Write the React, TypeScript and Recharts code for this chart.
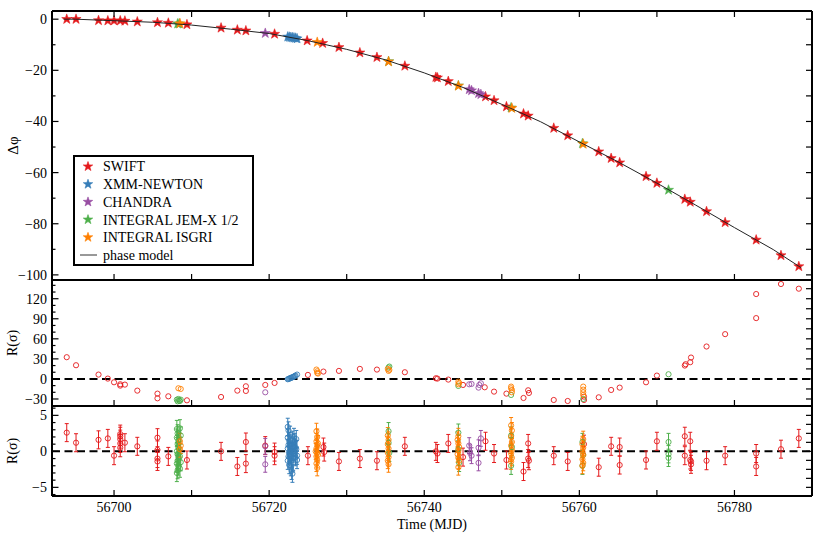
import React from 'react';
import { ScatterChart, Scatter, XAxis, YAxis, ReferenceLine, ErrorBar, Legend } from 'recharts';

// ─── Palette / fonts ──────────────────────────────────────────────────────────
const RED = '#e41a1c';
const BLUE = '#377eb8';
const PURPLE = '#984ea3';
const GREEN = '#4daf4a';
const ORANGE = '#ff7f00';
const FONT = '"Liberation Serif", "DejaVu Serif", serif';

// ─── Shared time axis ─────────────────────────────────────────────────────────
const mjdDomain: [number, number] = [56692, 56790];
const mjdTicks = [56700, 56710, 56720, 56730, 56740, 56750, 56760, 56770, 56780];

// ─── Top panel: phase offsets [MJD, Δφ] ───────────────────────────────────────
const swiftPhase: [number, number][] = [
  [56693.9, 0], [56695.1, 0], [56698.0, -0.5], [56699.2, -0.6], [56700.0, -0.6], [56700.8, -0.6],
  [56701.4, -0.7], [56703.0, -1.0], [56705.6, -1.3], [56707.0, -1.5], [56709.4, -2.1], [56713.8, -3.4],
  [56715.9, -4.2], [56717.0, -4.5], [56720.7, -5.8], [56724.9, -8.4], [56726.9, -9.4], [56729.0, -11.0],
  [56731.7, -13.1], [56733.9, -14.9], [56737.5, -18.3], [56741.5, -22.7], [56741.7, -22.9], [56743.1, -24.3],
  [56747.9, -30.3], [56749.0, -31.8], [56750.6, -34.2], [56752.8, -37.0], [56753.4, -37.8], [56756.7, -42.6],
  [56758.5, -45.5], [56762.5, -51.8], [56764.1, -54.4], [56765.2, -56.1], [56768.6, -61.5], [56770.0, -64.1],
  [56773.6, -70.4], [56774.3, -71.5], [56776.4, -75.2], [56778.8, -79.5], [56782.8, -86.3], [56786.0, -92.4],
  [56788.3, -96.7],
];
const xmmPhase: [number, number][] = [
  [56722.4, -6.9], [56722.6, -7.0], [56722.8, -7.1], [56723.0, -7.2], [56723.2, -7.3], [56723.4, -7.4], [56723.6, -7.6],
];
const chandraPhase: [number, number][] = [
  [56719.5, -5.5], [56745.8, -27.5], [56746.1, -27.9], [56747.0, -29.0], [56747.3, -29.4],
];
const jemxPhase: [number, number][] = [
  [56708.2, -1.8], [56708.4, -1.8], [56735.4, -16.5], [56744.4, -26.0], [56751.2, -34.6], [56760.4, -48.6], [56771.5, -66.8],
];
const isgriPhase: [number, number][] = [
  [56708.5, -1.7], [56726.2, -9.0], [56735.4, -16.6], [56744.4, -26.1], [56751.3, -34.8], [56760.5, -48.8],
];
const phaseModel: [number, number][] = [
  [56693.5, 0], [56695, 0], [56700, -0.6], [56705, -1.2], [56710, -2.3], [56715, -3.9], [56720, -5.6],
  [56725, -8.4], [56730, -11.8], [56735, -15.9], [56740, -21.0], [56745, -26.7], [56750, -33.3],
  [56755, -40.1], [56760, -48.0], [56765, -55.8], [56770, -64.1], [56775, -72.7], [56780, -81.5],
  [56785, -90.1], [56788.6, -97.2],
];

// ─── Middle panel: residuals against the constant-frequency model [MJD, R] ─────
const swiftResidLin: [number, number][] = [
  [56693.9, 32.5], [56695.1, 20.5], [56698.0, 6.5], [56699.2, 0.5], [56700.0, -5], [56700.8, -8], [56700.8, -10],
  [56701.4, -8.5], [56703.0, -17.5], [56705.6, -22], [56705.6, -29], [56707.0, -26], [56709.4, -32], [56713.8, -27],
  [56715.9, -17.5], [56717.0, -11], [56717.0, -18], [56719.5, -9], [56720.7, -6], [56725.0, 6], [56727.0, 11],
  [56729.0, 12], [56731.7, 15], [56733.9, 14], [56737.5, 10], [56741.5, 1], [56741.7, 0.5], [56743.1, -1],
  [56745.0, -9], [56747.8, -12.5], [56749.0, -19], [56750.6, -22], [56752.8, -28.5], [56753.4, -17], [56753.5, -21],
  [56756.7, -31.5], [56758.5, -33], [56760.6, -26.5], [56760.6, -31.5], [56762.5, -27.5], [56764.1, -16.5],
  [56765.2, -13], [56768.6, -5], [56770.0, 5], [56773.6, 20], [56773.7, 22], [56774.3, 25], [56774.4, 32],
  [56776.4, 48.5], [56778.8, 67], [56782.8, 91], [56782.8, 127], [56786.0, 142], [56788.3, 135],
];
const xmmResidLin: [number, number][] = [
  [56722.4, -0.5], [56722.5, 0], [56722.6, 0.5], [56722.7, 1], [56722.8, 1.5], [56722.9, 2], [56723.0, 2.5],
  [56723.1, 3], [56723.2, 3.5], [56723.3, 4.5], [56723.4, 5], [56723.6, 6.5],
];
const chandraResidLin: [number, number][] = [
  [56719.5, -20], [56745.8, -8], [56746.1, -7.5], [56747.0, -13], [56747.1, -9], [56747.3, -6.5],
];
const jemxResidLin: [number, number][] = [
  [56708.1, -31], [56708.2, -33.5], [56708.3, -30], [56708.4, -32.5], [56708.5, -33], [56708.6, -31],
  [56735.4, 17], [56735.5, 18.5], [56744.4, -10.5], [56751.2, -24], [56760.5, -30], [56771.5, 7],
];
const isgriResidLin: [number, number][] = [
  [56708.3, -14], [56708.6, -15], [56726.1, 14], [56726.2, 11.5], [56726.2, 9], [56726.3, 8], [56735.3, 15],
  [56735.4, 12], [56735.5, 13.5], [56744.4, -4], [56744.5, -6], [56744.4, -8], [56751.2, -11.5], [56751.2, -14],
  [56751.3, -16.5], [56751.3, -20], [56760.5, -11.5], [56760.5, -16], [56760.5, -20], [56760.5, -24],
];

// ─── Bottom panel: residuals against the phase model [MJD, R] ±err ─────────────
const swiftResidFit: [number, number][] = [
  [56693.9, 2.6], [56695.1, 1.2], [56698.0, 1.6], [56699.2, 1.8], [56700.0, -0.6], [56700.8, 2.4], [56700.8, 2.1],
  [56700.8, 1.7], [56700.8, 1.1], [56700.8, 0.5], [56701.4, 1.2], [56703.0, 0.7], [56705.6, 1.9], [56705.6, 0.2],
  [56705.6, -1.0], [56705.6, -1.4], [56707.0, -0.7], [56709.4, -1.2], [56713.8, 0], [56715.9, -2.1], [56717.0, 1.3],
  [56717.0, -1.7], [56719.5, 0.8], [56720.7, -0.1], [56720.7, -0.6], [56725.0, -0.6], [56727.0, 0.6], [56727.1, -0.1],
  [56729.0, -1.4], [56731.7, -1.0], [56733.9, -1.3], [56737.5, 0.7], [56741.5, 0], [56741.7, -0.3], [56743.1, 1.1],
  [56745.0, -0.8], [56747.9, 1.4], [56749.0, -0.3], [56750.6, -1.2], [56752.8, -2.8], [56753.4, 1.1], [56753.4, -1.0],
  [56753.5, -1.3], [56756.7, -0.6], [56758.5, -1.4], [56760.6, 1.0], [56762.5, -2.2], [56764.1, 0.7], [56765.2, 0.6],
  [56765.2, -1.9], [56768.6, -1.2], [56770.0, 1.4], [56773.6, 2.1], [56773.6, -0.6], [56774.3, 1.4], [56774.3, -1.2],
  [56774.4, -1.4], [56774.4, -1.8], [56776.4, -1.3], [56778.8, -0.6], [56782.8, -0.3], [56782.8, -2.1],
  [56786.0, 0.3], [56788.3, 1.8],
];
const xmmResidFit: [number, number][] = [
  [56722.4, 3.4], [56722.5, 2.9], [56722.4, 1.9], [56722.6, 1.4], [56722.5, 0.9], [56722.4, 0.4], [56722.6, -0.2],
  [56722.5, -0.7], [56722.4, -1.3], [56722.6, -1.9], [56722.7, 2.3], [56722.8, 1.1], [56722.9, 0.1], [56722.8, -0.5],
  [56722.9, -1.0], [56722.8, -2.2], [56722.9, -2.7], [56723.0, -3.1], [56723.0, 1.6], [56723.1, 0.6], [56723.2, -0.3],
  [56723.1, -1.5], [56723.2, 2.0], [56723.3, 0.9], [56723.4, -0.8], [56723.3, 1.3], [56723.5, 0.3], [56723.6, -0.6],
  [56723.5, 1.7], [56723.6, -1.2], [56722.7, 0.0], [56723.0, -0.1], [56723.4, 0.5],
];
const chandraResidFit: [number, number][] = [
  [56719.5, 0.7], [56719.5, -1.8], [56745.8, 0.8], [56745.9, -0.2], [56746.1, -0.6], [56747.0, 0.5], [56747.0, -1.6],
  [56747.3, 1.8],
];
const jemxResidFit: [number, number][] = [
  [56708.1, 3.1], [56708.2, 2.5], [56708.1, 1.9], [56708.3, 1.5], [56708.2, 1.0], [56708.3, 0.5], [56708.1, 0.0],
  [56708.2, -0.4], [56708.3, -0.8], [56708.2, -1.3], [56708.1, -1.7], [56708.3, -2.1], [56708.2, -2.6], [56708.1, -3.0],
  [56708.5, 3.2], [56708.6, 2.2], [56708.5, -0.7], [56708.6, -1.5], [56708.5, -2.4],
  [56735.4, 2.8], [56735.4, 1.2], [56735.5, -0.2], [56744.4, 2.6], [56744.4, 0.3], [56744.5, -1.6],
  [56751.2, 2.2], [56751.3, 0.6], [56751.2, -2.0], [56760.4, 1.3], [56760.5, -0.5], [56760.4, -2.0],
  [56771.5, 1.3], [56771.5, -0.4], [56771.5, -0.9],
];
const isgriResidFit: [number, number][] = [
  [56708.5, 1.4], [56708.6, 0.8], [56708.5, 0.3],
  [56726.1, 2.8], [56726.2, 2.0], [56726.1, 1.4], [56726.2, 0.9], [56726.1, 0.4], [56726.2, -0.2], [56726.1, -0.7],
  [56726.2, -1.2], [56726.1, -1.7], [56726.2, -2.3], [56726.3, 1.1], [56726.3, -0.5], [56726.0, 0.0],
  [56735.3, 2.2], [56735.4, 1.6], [56735.3, 1.0], [56735.4, 0.4], [56735.3, -0.2], [56735.4, -0.8], [56735.3, -1.3],
  [56735.4, -1.8],
  [56744.4, 2.1], [56744.3, 1.6], [56744.4, 1.1], [56744.5, 0.6], [56744.4, 0.1], [56744.3, -0.4], [56744.4, -0.9],
  [56744.5, -1.3], [56744.4, -2.2],
  [56751.2, 3.6], [56751.3, 2.9], [56751.2, 2.0], [56751.3, 1.3], [56751.2, 0.8], [56751.3, 0.2], [56751.2, -0.3],
  [56751.3, -0.9], [56751.2, -1.4],
  [56760.5, 1.7], [56760.4, 1.0], [56760.5, 0.5], [56760.4, 0.0], [56760.5, -0.5], [56760.4, -1.1], [56760.5, -1.6],
  [56760.4, -2.0],
];
const swiftErr = 1.25;
const xmmErr = 1.2;
const chandraErr = 1.1;
const jemxErr = 1.2;
const isgriErr = 1.1;

// ─── Series meta (legend order = draw order) ─────────────────────────────────
const instruments = [
  { name: 'SWIFT', color: RED, phase: swiftPhase, lin: swiftResidLin, fit: swiftResidFit, err: swiftErr },
  { name: 'XMM-NEWTON', color: BLUE, phase: xmmPhase, lin: xmmResidLin, fit: xmmResidFit, err: xmmErr },
  { name: 'CHANDRA', color: PURPLE, phase: chandraPhase, lin: chandraResidLin, fit: chandraResidFit, err: chandraErr },
  { name: 'INTEGRAL JEM-X 1/2', color: GREEN, phase: jemxPhase, lin: jemxResidLin, fit: jemxResidFit, err: jemxErr },
  { name: 'INTEGRAL ISGRI', color: ORANGE, phase: isgriPhase, lin: isgriResidLin, fit: isgriResidFit, err: isgriErr },
];

const toPoints = (rows: [number, number][], err = 0) => rows.map(([x, y]) => ({ x, y, e: err }));

// ─── Marker shapes ────────────────────────────────────────────────────────────
function starPath(cx: number, cy: number, r: number) {
  const pts: string[] = [];
  for (let i = 0; i < 10; i++) {
    const rad = i % 2 === 0 ? r : r * 0.4;
    const a = -Math.PI / 2 + (i * Math.PI) / 5;
    pts.push(`${(cx + rad * Math.cos(a)).toFixed(2)},${(cy + rad * Math.sin(a)).toFixed(2)}`);
  }
  return 'M' + pts.join('L') + 'Z';
}
const star = (color: string) => (p: any) => (
  <path d={starPath(p.cx, p.cy, 5.3)} fill={color} stroke={color} strokeWidth={0.6} strokeOpacity={0.9} />
);
const ring = (color: string) => (p: any) => (
  <circle cx={p.cx} cy={p.cy} r={2.6} fill="none" stroke={color} strokeWidth={0.9} />
);
const nothing = () => <g />;

// ─── Axis ticks (inward, drawn by hand) ───────────────────────────────────────
const fmt = (v: number) => String(v).replace('-', '\u2212');
const near = (v: number, step: number) => Math.abs(v / step - Math.round(v / step)) < 1e-6;
const textStyle = { fontFamily: FONT, fontSize: 14, fill: '#000' };

const bottomTick = (labels: boolean) => (p: any) => (
  <g>
    <line x1={p.x} x2={p.x} y1={p.y} y2={p.y - 6} stroke="#000" strokeWidth={1.2} />
    {labels && near(p.payload.value, 20) && (
      <text x={p.x} y={p.y + 15.5} textAnchor="middle" {...textStyle}>{p.payload.value}</text>
    )}
  </g>
);
const topTick = (p: any) => (
  <line x1={p.x} x2={p.x} y1={p.y} y2={p.y + 6} stroke="#000" strokeWidth={1.2} />
);
const leftTick = (major: number) => (p: any) => {
  const isMajor = near(p.payload.value, major);
  return (
    <g>
      <line x1={p.x} x2={p.x + (isMajor ? 6.5 : 3.5)} y1={p.y} y2={p.y} stroke="#000" strokeWidth={1.2} />
      {isMajor && (
        <text x={p.x - 5} y={p.y} dy="0.35em" textAnchor="end" {...textStyle}>{fmt(p.payload.value)}</text>
      )}
    </g>
  );
};
const rightTick = (p: any) => (
  <line x1={p.x} x2={p.x - 6} y1={p.y} y2={p.y} stroke="#000" strokeWidth={1.2} />
);

const axisCommon = {
  type: 'number' as const,
  allowDataOverflow: true,
  tickLine: false,
  tickSize: 0,
  tickMargin: 0,
  interval: 0 as const,
  axisLine: { stroke: '#000', strokeWidth: 2 },
};

// ─── Legend ───────────────────────────────────────────────────────────────────
const renderLegend = () => (
  <svg width={181} height={111} style={{ display: 'block' }}>
    <rect x={1} y={1} width={179} height={109} fill="#fff" stroke="#000" strokeWidth={2} />
    {instruments.map((s, i) => (
      <g key={s.name}>
        <path d={starPath(15, 11.5 + i * 17.7, 5)} fill={s.color} stroke={s.color} strokeWidth={0.6} />
        <text x={30} y={11.5 + i * 17.7} dy="0.35em" {...textStyle}>{s.name}</text>
      </g>
    ))}
    <line x1={7} x2={24} y1={100} y2={100} stroke="#333" strokeWidth={1} />
    <text x={30} y={100} dy="0.35em" {...textStyle}>phase model</text>
  </svg>
);

// axes need a non-zero size to be drawn, so each takes 1px out of the margin
const W = 830;
const MARGIN_R = 17;
const YW = 52;

export default function App() {
  return (
    <div style={{ position: 'absolute', left: 0, top: 0, width: W, height: 540, background: '#fff' }}>
      {/* ── Δφ panel ── */}
      <div style={{ position: 'absolute', left: 0, top: 0 }}>
        <ScatterChart width={W} height={284} margin={{ top: 10, right: MARGIN_R, bottom: 3, left: 0 }}>
          <XAxis {...axisCommon} xAxisId="b" dataKey="x" orientation="bottom" height={1} domain={mjdDomain} ticks={mjdTicks} tick={bottomTick(false)} />
          <XAxis {...axisCommon} xAxisId="t" dataKey="x" orientation="top" height={1} domain={mjdDomain} ticks={mjdTicks} tick={topTick} />
          <YAxis
            {...axisCommon} yAxisId="l" dataKey="y" width={YW} domain={[-102, 3.2]}
            ticks={[-100, -90, -80, -70, -60, -50, -40, -30, -20, -10, 0]} tick={leftTick(20)}
            label={{ value: 'Δφ', angle: -90, position: 'insideLeft', offset: 13, style: { textAnchor: 'middle' }, ...textStyle, fontSize: 15 }}
          />
          <YAxis
            {...axisCommon} yAxisId="r" dataKey="y" orientation="right" width={1} domain={[-102, 3.2]}
            ticks={[-100, -90, -80, -70, -60, -50, -40, -30, -20, -10, 0]} tick={rightTick}
          />
          {instruments.map((s) => (
            <Scatter
              key={s.name} name={s.name} xAxisId="b" yAxisId="l" data={toPoints(s.phase)}
              shape={star(s.color)} isAnimationActive={false}
            />
          ))}
          <Scatter
            name="phase model" xAxisId="b" yAxisId="l" data={toPoints(phaseModel)}
            line={{ stroke: '#222', strokeWidth: 1 }} shape={nothing} isAnimationActive={false}
          />
          <Legend
            layout="vertical" align="center" verticalAlign="middle" content={renderLegend}
            wrapperStyle={{ left: 73, top: 155, width: 181, height: 111 }}
          />
        </ScatterChart>
      </div>

      {/* ── R(σ), constant-frequency residuals ── */}
      <div style={{ position: 'absolute', left: 0, top: 276 }}>
        <ScatterChart width={W} height={134} margin={{ top: 4, right: MARGIN_R, bottom: 3, left: 0 }}>
          <XAxis {...axisCommon} xAxisId="b" dataKey="x" orientation="bottom" height={1} domain={mjdDomain} ticks={mjdTicks} tick={bottomTick(false)} />
          <YAxis
            {...axisCommon} yAxisId="l" dataKey="y" width={YW} domain={[-40.5, 148]}
            ticks={[-30, -20, -10, 0, 10, 20, 30, 40, 50, 60, 70, 80, 90, 100, 110, 120, 130, 140]} tick={leftTick(30)}
            label={{ value: 'R(σ)', angle: -90, position: 'insideLeft', offset: 12, style: { textAnchor: 'middle' }, ...textStyle }}
          />
          <YAxis
            {...axisCommon} yAxisId="r" dataKey="y" orientation="right" width={1} domain={[-40.5, 148]}
            ticks={[-30, -15, 0, 15, 30, 45, 60, 75, 90, 105, 120, 135]} tick={rightTick}
          />
          <ReferenceLine xAxisId="b" yAxisId="l" y={0} stroke="#000" strokeWidth={2} strokeDasharray="8 4.5" />
          {instruments.map((s) => (
            <Scatter
              key={s.name} name={s.name} xAxisId="b" yAxisId="l" data={toPoints(s.lin)}
              shape={ring(s.color)} isAnimationActive={false}
            />
          ))}
        </ScatterChart>
      </div>

      {/* ── R(σ), phase-model residuals ── */}
      <div style={{ position: 'absolute', left: 0, top: 402 }}>
        <ScatterChart width={W} height={138} margin={{ top: 4, right: MARGIN_R, bottom: 43, left: 0 }}>
          <XAxis
            {...axisCommon} xAxisId="b" dataKey="x" orientation="bottom" height={1} domain={mjdDomain} ticks={mjdTicks}
            tick={bottomTick(true)}
            label={{ value: 'Time (MJD)', position: 'bottom', offset: 22, ...textStyle }}
          />
          <YAxis
            {...axisCommon} yAxisId="l" dataKey="y" width={YW} domain={[-6.2, 6.3]}
            ticks={[-6, -5, -4, -3, -2, -1, 0, 1, 2, 3, 4, 5, 6]} tick={leftTick(5)}
            label={{ value: 'R(σ)', angle: -90, position: 'insideLeft', offset: 12, style: { textAnchor: 'middle' }, ...textStyle }}
          />
          <YAxis
            {...axisCommon} yAxisId="r" dataKey="y" orientation="right" width={1} domain={[-6.2, 6.3]}
            ticks={[-5, -3.75, -2.5, -1.25, 0, 1.25, 2.5, 3.75, 5]} tick={rightTick}
          />
          <ReferenceLine xAxisId="b" yAxisId="l" y={0} stroke="#000" strokeWidth={2} strokeDasharray="8 4.5" />
          {instruments.map((s) => (
            <Scatter
              key={s.name} name={s.name} xAxisId="b" yAxisId="l" data={toPoints(s.fit, s.err)}
              shape={ring(s.color)} isAnimationActive={false}
            >
              <ErrorBar dataKey="e" direction="y" width={2} stroke={s.color} strokeWidth={1} />
            </Scatter>
          ))}
        </ScatterChart>
      </div>
    </div>
  );
}
